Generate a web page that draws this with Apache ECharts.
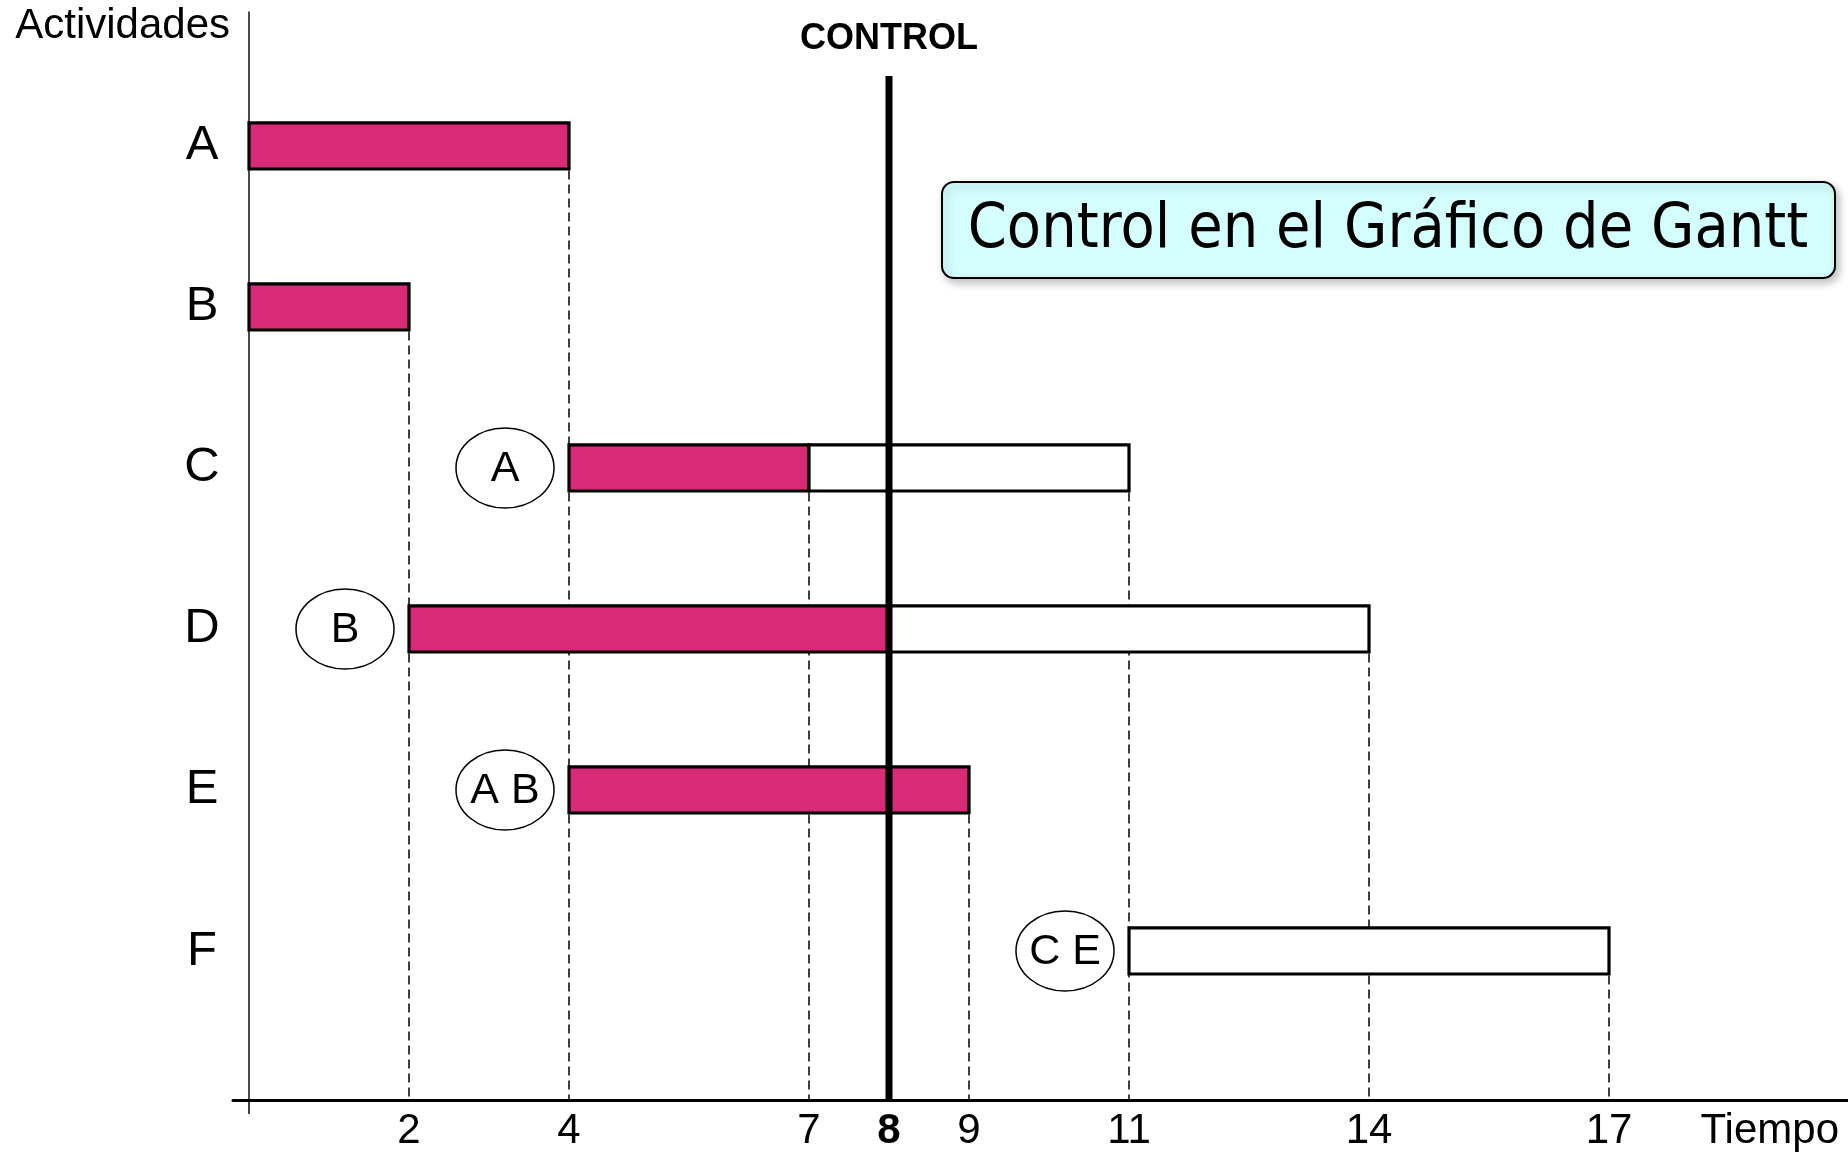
<!DOCTYPE html>
<html>
<head>
<meta charset="utf-8">
<script src="https://cdn.jsdelivr.net/npm/echarts@6/dist/echarts.min.js"></script>
<style>html,body{margin:0;padding:0;background:#fff;}#c{width:1848px;height:1154px;}</style>
</head>
<body>
<div id="c"></div>
<script>
const activities = ['A', 'B', 'C', 'D', 'E', 'F'];
const startTimes = [0, 0, 4, 2, 4, 11];
const endTimes = [4, 2, 11, 14, 9, 17];
const progressTimes = [4, 2, 7, 8, 9, 11];
const predecessors = ['', '', 'A', 'B', 'A B', 'C E'];
const controlTime = 8;
const timeTicks = [2, 4, 7, 8, 9, 11, 14, 17];
const chartTitle = 'Control en el Gráfico de Gantt';

const MAGENTA = '#D92A77';
const FONT = '"Liberation Sans", Arial, sans-serif';
const BAR_H = 0.286;

const rowValue = i => activities.length - i;
const taskData = activities.map((a, i) => [rowValue(i), startTimes[i], progressTimes[i], endTimes[i], i]);

function barGeom(api) {
  const y = api.value(0);
  const h = api.size([0, BAR_H])[1];
  const p0 = api.coord([api.value(1), y]);
  return {
    yc: p0[1], h: h, x0: p0[0],
    xp: api.coord([api.value(2), y])[0],
    x1: api.coord([api.value(3), y])[0]
  };
}

function renderDrops(params, api) {
  const g = barGeom(api);
  const cs = params.coordSys;
  const bottom = cs.y + cs.height;
  const xs = [g.x1];
  if (g.xp > g.x0 && g.xp < g.x1) xs.push(g.xp);
  return {
    type: 'group',
    children: xs.map(x => ({
      type: 'line',
      shape: { x1: x, y1: g.yc + g.h / 2 + 1.5, x2: x, y2: bottom },
      style: { stroke: '#000', lineWidth: 1.5, lineDash: [9, 5] }
    }))
  };
}

function renderBars(params, api) {
  const g = barGeom(api);
  const children = [];
  if (g.xp > g.x0) children.push({
    type: 'rect',
    shape: { x: g.x0, y: g.yc - g.h / 2, width: g.xp - g.x0, height: g.h },
    style: { fill: MAGENTA, stroke: '#000', lineWidth: 3.2 }
  });
  if (g.x1 > g.xp) children.push({
    type: 'rect',
    shape: { x: g.xp, y: g.yc - g.h / 2, width: g.x1 - g.xp, height: g.h },
    style: { fill: '#fff', stroke: '#000', lineWidth: 3.2 }
  });
  const pred = predecessors[api.value(4)];
  if (pred) {
    children.push({
      type: 'ellipse',
      shape: { cx: g.x0 - 64, cy: g.yc, rx: 49, ry: 40 },
      style: { fill: '#fff', stroke: '#000', lineWidth: 1.5 }
    });
    children.push({
      type: 'text',
      x: g.x0 - 64, y: g.yc + 1,
      style: { text: pred, fontSize: 43, fontFamily: FONT, fill: '#000', align: 'center', verticalAlign: 'middle' }
    });
  }
  return { type: 'group', children: children };
}

function renderControl(params, api) {
  const top = api.coord([api.value(0), api.value(1)]);
  const cs = params.coordSys;
  return {
    type: 'group',
    children: [
      { type: 'line', shape: { x1: top[0], y1: top[1], x2: top[0], y2: cs.y + cs.height },
        style: { stroke: '#000', lineWidth: 7 } },
      { type: 'text', x: top[0], y: top[1] - 37,
        style: { text: 'CONTROL', fontSize: 36, fontWeight: 'bold', fontFamily: FONT, fill: '#000', align: 'center', verticalAlign: 'middle' } }
    ]
  };
}

const chart = echarts.init(document.getElementById('c'), null, { renderer: 'canvas' });
chart.setOption({
  animation: false,
  backgroundColor: '#fff',
  grid: { left: 233, top: 12, width: 1616, bottom: 54, containLabel: false, outerBoundsMode: 'none' },
  xAxis: {
    type: 'value', min: -0.2, max: 20, position: 'bottom',
    name: 'Tiempo', nameLocation: 'end', nameGap: -10,
    nameTextStyle: { fontSize: 42, fontFamily: FONT, color: '#000', align: 'right', verticalAlign: 'top', lineHeight: 42, padding: [10, 0, 0, 0] },
    axisLine: { show: true, onZero: false, lineStyle: { color: '#000', width: 3 } },
    axisTick: { show: true, customValues: [0], length: 14, lineStyle: { color: '#000', width: 1.5 } },
    splitLine: { show: false },
    axisLabel: {
      customValues: timeTicks, margin: 10, fontSize: 42, fontFamily: FONT, color: '#000', lineHeight: 42,
      formatter: v => (v === controlTime ? '{b|' + v + '}' : String(v)),
      rich: { b: { fontSize: 42, fontWeight: 'bold', fontFamily: FONT, color: '#000', lineHeight: 42 } }
    }
  },
  yAxis: {
    type: 'value', min: 0.0745, max: 6.832,
    name: 'Actividades', nameLocation: 'end', nameGap: -14,
    nameTextStyle: { fontSize: 42, fontFamily: FONT, color: '#000', align: 'right', verticalAlign: 'middle', padding: [0, 19, 0, 0] },
    axisLine: { show: true, onZero: true, lineStyle: { color: '#111', width: 1.5 } },
    axisTick: { show: false },
    splitLine: { show: false },
    axisLabel: {
      customValues: activities.map((a, i) => rowValue(i)),
      formatter: v => activities[activities.length - Math.round(v)],
      margin: 31, align: 'center',
      fontSize: 49, fontFamily: FONT, color: '#000'
    }
  },
  series: [
    { type: 'custom', name: 'drops', z: 1, clip: false, encode: { x: [1, 2, 3], y: 0 }, data: taskData, renderItem: renderDrops },
    { type: 'custom', name: 'tasks', z: 2, clip: false, encode: { x: [1, 2, 3], y: 0 }, data: taskData, renderItem: renderBars },
    { type: 'custom', name: 'control', z: 3, clip: false, encode: { x: 0, y: 1 }, data: [[controlTime, activities.length + 0.435]], renderItem: renderControl }
  ],
  graphic: [{
    type: 'group', left: 941, top: 181,
    children: [
      { type: 'rect', shape: { x: 0, y: 0, width: 893, height: 96, r: 12 },
        style: { fill: '#D4FDFD', stroke: '#000', lineWidth: 2, shadowBlur: 8, shadowOffsetX: 3, shadowOffsetY: 4, shadowColor: 'rgba(0,0,0,0.25)' } },
      { type: 'text', x: 446, y: 49, scaleX: 0.89,
        style: { text: chartTitle, fontSize: 63, fontFamily: '"DejaVu Sans", sans-serif', fill: '#000', align: 'center', verticalAlign: 'middle' } }
    ]
  }]
});
</script>
</body>
</html>
